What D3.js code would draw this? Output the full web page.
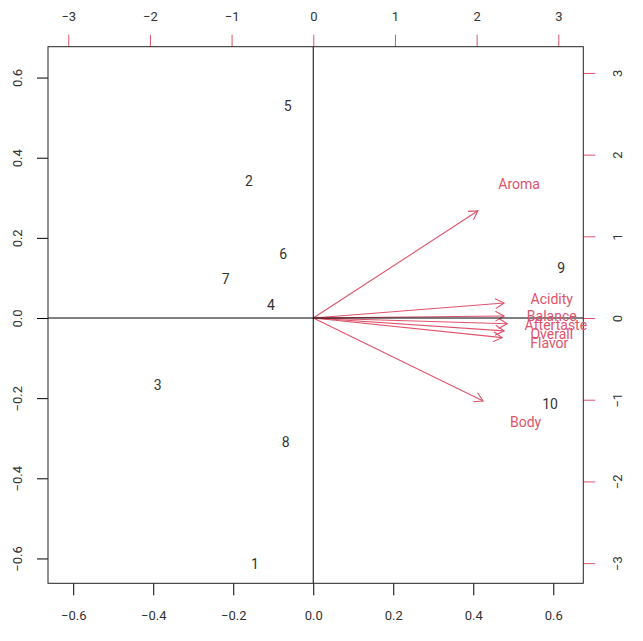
<!DOCTYPE html>
<html>
<head>
<meta charset="utf-8">
<script src="https://cdn.jsdelivr.net/npm/d3@7"></script>
<style>
	body { margin: 0; background: #fff; }
	text { font-family: Roboto, 'Open Sans', sans-serif; }
</style>
</head>
<body>
<div id="biplot"></div>
<script>
// observation scores (bottom / left axes)
var obsLabels = ['1', '2', '3', '4', '5', '6', '7', '8', '9', '10'];
var obsX = [-0.146, -0.161, -0.389, -0.106, -0.064, -0.075, -0.219, -0.069, 0.620, 0.592];
var obsY = [-0.615, 0.343, -0.167, 0.032, 0.528, 0.159, 0.097, -0.310, 0.124, -0.215];

// variable loadings (top / right axes)
var varLabels = ['Aroma', 'Acidity', 'Balance', 'Aftertaste', 'Overall', 'Flavor', 'Body'];
var varX = [2.52, 2.92, 2.92, 2.97, 2.92, 2.89, 2.60];
var varY = [1.64, 0.23, 0.03, -0.087, -0.196, -0.30, -1.27];

var scoreTicks = [-0.6, -0.4, -0.2, 0.0, 0.2, 0.4, 0.6];
var loadTicks = [-3, -2, -1, 0, 1, 2, 3];

var width = 643;
var height = 641;
var boxLeft = 48, boxRight = 583.3, boxTop = 46.7, boxBottom = 583.3;
var red = '#DF536B';
var ink = '#333';

var svg = d3.select('#biplot')
	.append('svg')
	.attr('width', width)
	.attr('height', height);

var xScale = d3.scaleLinear().domain([-0.663, 0.675]).range([boxLeft, boxRight]);
var yScale = d3.scaleLinear().domain([-0.662, 0.677]).range([boxBottom, boxTop]);
var x2Scale = d3.scaleLinear().domain([-3.248, 3.306]).range([boxLeft, boxRight]);
var y2Scale = d3.scaleLinear().domain([-3.247, 3.321]).range([boxBottom, boxTop]);

var fmt = d3.format('.1f');

function styleAxis(g, tickColor, rotate, dx, dy) {
	g.select('.domain').remove();
	g.selectAll('.tick line').attr('stroke', tickColor);
	g.selectAll('.tick text')
		.attr('x', 0)
		.attr('y', 0)
		.attr('dy', null)
		.attr('transform', 'translate(' + dx + ',' + dy + ')' + (rotate ? ' rotate(-90)' : ''))
		.attr('fill', ink)
		.attr('dominant-baseline', 'central')
		.style('text-anchor', 'middle')
		.style('font-size', '13px')
		.style('font-family', 'Roboto, sans-serif');
}

// axes
svg.append('g')
	.attr('transform', 'translate(0,' + boxBottom + ')')
	.call(d3.axisBottom(xScale).tickValues(scoreTicks).tickFormat(fmt).tickSize(12))
	.call(styleAxis, '#000', false, 0, 32);

svg.append('g')
	.attr('transform', 'translate(' + boxLeft + ',0)')
	.call(d3.axisLeft(yScale).tickValues(scoreTicks).tickFormat(fmt).tickSize(11))
	.call(styleAxis, '#000', true, -31, 0);

svg.append('g')
	.attr('transform', 'translate(0,' + boxTop + ')')
	.call(d3.axisTop(x2Scale).tickValues(loadTicks).tickFormat(d3.format('d')).tickSize(12))
	.call(styleAxis, red, false, 0, -30);

svg.append('g')
	.attr('transform', 'translate(' + boxRight + ',0)')
	.call(d3.axisRight(y2Scale).tickValues(loadTicks).tickFormat(d3.format('d')).tickSize(12))
	.call(styleAxis, red, true, 34, 0);

// arrows (drawn to 0.8 of the loading, as biplot does)
var arrows = svg.append('g').attr('fill', 'none').attr('stroke', red).attr('stroke-width', 1.1);
var headLen = 10;
var headAng = Math.PI / 6;

varLabels.forEach(function(d, i) {
	var x0 = x2Scale(0), y0 = y2Scale(0);
	var x1 = x2Scale(varX[i] * 0.8), y1 = y2Scale(varY[i] * 0.8);
	var a = Math.atan2(y1 - y0, x1 - x0);
	arrows.append('line')
		.attr('x1', x0).attr('y1', y0)
		.attr('x2', x1).attr('y2', y1);
	arrows.append('path')
		.attr('d', 'M' + (x1 - headLen * Math.cos(a - headAng)) + ',' + (y1 - headLen * Math.sin(a - headAng)) +
			'L' + x1 + ',' + y1 +
			'L' + (x1 - headLen * Math.cos(a + headAng)) + ',' + (y1 - headLen * Math.sin(a + headAng)));
});

// zero lines
svg.append('line')
	.attr('x1', boxLeft).attr('x2', boxRight)
	.attr('y1', yScale(0)).attr('y2', yScale(0))
	.attr('stroke', '#000');
svg.append('line')
	.attr('x1', xScale(0)).attr('x2', xScale(0))
	.attr('y1', boxTop).attr('y2', boxBottom)
	.attr('stroke', '#000');

// frame
svg.append('rect')
	.attr('x', boxLeft).attr('y', boxTop)
	.attr('width', boxRight - boxLeft).attr('height', boxBottom - boxTop)
	.attr('fill', 'none')
	.attr('stroke', '#222');

// observation labels
svg.append('g').selectAll('text')
	.data(obsLabels)
	.enter()
	.append('text')
	.attr('x', function(d, i) { return xScale(obsX[i]); })
	.attr('y', function(d, i) { return yScale(obsY[i]); })
	.attr('dominant-baseline', 'central')
	.style('text-anchor', 'middle')
	.style('font-size', '14px')
	.attr('fill', ink)
	.text(function(d) { return d; });

// variable labels
svg.append('g').selectAll('text')
	.data(varLabels)
	.enter()
	.append('text')
	.attr('x', function(d, i) { return x2Scale(varX[i]); })
	.attr('y', function(d, i) { return y2Scale(varY[i]); })
	.attr('dominant-baseline', 'central')
	.style('text-anchor', 'middle')
	.style('font-size', '14px')
	.attr('fill', red)
	.text(function(d) { return d; });
</script>
</body>
</html>
